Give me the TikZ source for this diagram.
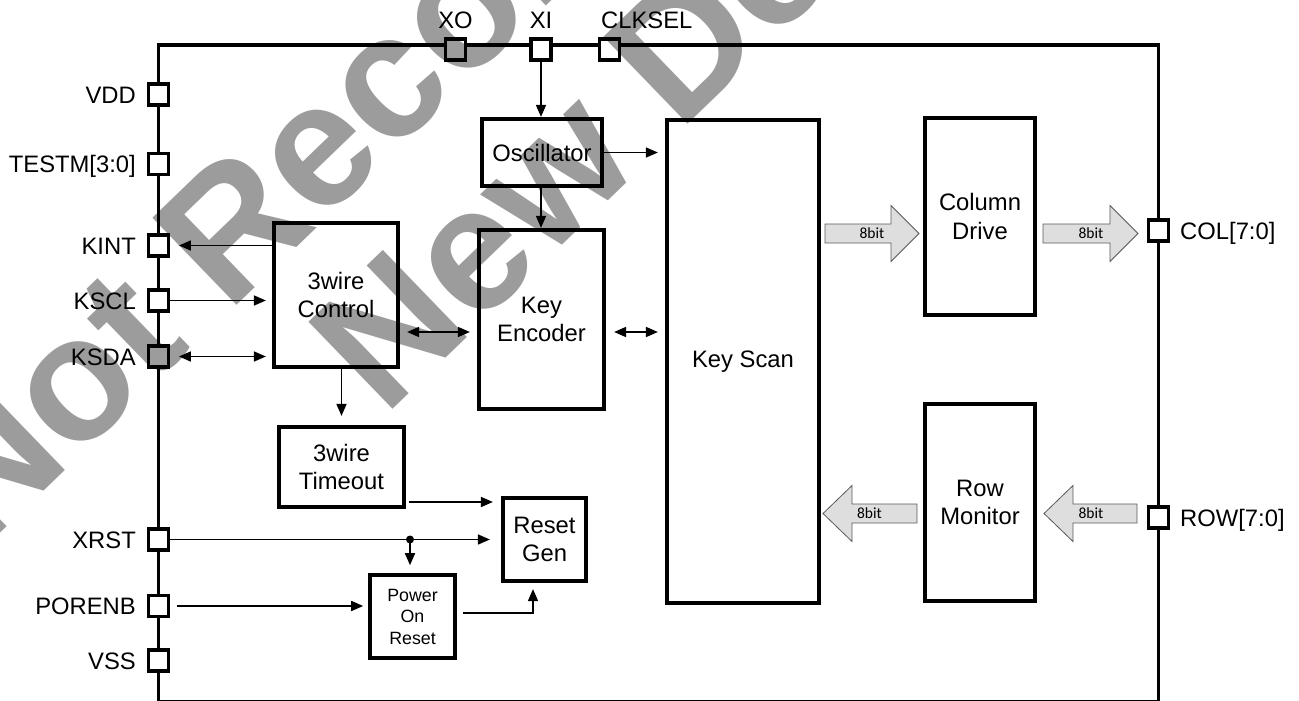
\documentclass[tikz,border=0pt]{standalone}
\usepackage{fontspec}
\setmainfont{Liberation Sans}
\newfontfamily\busfont{Carlito}
\usetikzlibrary{arrows.meta,calc}
\tikzset{
 pad/.style={draw, fill=white, line width=3.8pt, minimum width=20pt, minimum height=21pt, inner sep=0pt},
 block/.style={draw, line width=4.2pt, inner sep=0pt, align=center, font=\fontsize{23.8}{28.5}\selectfont},
 lbl/.style={inner sep=0pt, font=\fontsize{23.8}{28.5}\selectfont},
 wire/.style={line width=1.6pt, -{Triangle[length=12pt,width=10pt]}},
 wiretwo/.style={line width=1.6pt, {Triangle[length=12pt,width=10pt]}-{Triangle[length=12pt,width=10pt]}},
 bus/.style={draw=black!65, fill=black!13, line width=0.8pt},
 buslbl/.style={inner sep=0pt, font=\busfont\fontsize{15.5}{16}\selectfont},
 wm/.style={inner sep=0pt, text=black, opacity=0.39, font=\bfseries\fontsize{176}{180}\selectfont, anchor=base west, rotate=44},
}
\begin{document}
\begin{tikzpicture}[x=1pt,y=-1pt]
\useasboundingbox (0,0) rectangle (1299,701);
\clip (0,0) rectangle (1299,701);
% outer frame
\draw[line width=3.8pt] (158.5,45) rectangle (1158.5,701.5);
% blocks
\node[block, minimum width=120pt, minimum height=67pt] (osc) at (542,152.5) {Oscillator};
\node[block, minimum width=125pt, minimum height=179pt] (ke) at (541.5,319.5) {Key\\Encoder};
\node[block, minimum width=152pt, minimum height=483pt] (ks) at (743,361.5) {Key Scan};
\node[block, minimum width=124pt, minimum height=144pt] (tc) at (336,295) {3wire\\Control};
\node[block, minimum width=125pt, minimum height=80pt] (tt) at (341.5,467) {3wire\\Timeout};
\node[block, minimum width=83pt, minimum height=83pt] (rg) at (544.5,539.5) {Reset\\Gen};
\node[block, line width=3.6pt, minimum width=85pt, minimum height=83pt, font=\fontsize{17.8}{21.5}\selectfont] (por) at (412.5,616.5) {Power\\On\\Reset};
\node[block, minimum width=110pt, minimum height=197pt] (cd) at (980,216.5) {Column\\Drive};
\node[block, minimum width=110pt, minimum height=197pt] (rm) at (980,502.5) {Row\\Monitor};
% pads
\node[pad] (VDD) at (158.5,94.5) {};
\node[pad] (TESTM) at (158.5,164) {};
\node[pad] (KINT) at (158.5,245.5) {};
\node[pad] (KSCL) at (158.5,300.5) {};
\node[pad] (KSDA) at (158.5,356.5) {};
\node[pad] (XRST) at (158.5,539.5) {};
\node[pad] (PORENB) at (158.5,606) {};
\node[pad] (VSS) at (158.5,660.5) {};
\node[pad] (XO) at (455.5,49.5) {};
\node[pad] (XI) at (541,49.5) {};
\node[pad] (CLKSEL) at (609.5,49.5) {};
\node[pad] (COL) at (1158.5,230.5) {};
\node[pad] (ROW) at (1158.5,517.5) {};
% pad labels
\node[lbl, anchor=base east] (tVDD) at (136,103) {VDD};
\node[lbl, anchor=base east] (tTESTM) at (136,172.5) {TESTM[3:0]};
\node[lbl, anchor=base east] (tKINT) at (136,254) {KINT};
\node[lbl, anchor=base east] (tKSCL) at (136,309) {KSCL};
\node[lbl, anchor=base east] (tKSDA) at (136,365) {KSDA};
\node[lbl, anchor=base east] (tXRST) at (136,548) {XRST};
\node[lbl, anchor=base east] (tPORENB) at (136,614.5) {PORENB};
\node[lbl, anchor=base east] (tVSS) at (136,669) {VSS};
\node[lbl, anchor=base] (tXO) at (455.5,28.5) {XO};
\node[lbl, anchor=base] (tXI) at (541,28.5) {XI};
\node[lbl, anchor=base west] (tCLKSEL) at (601,28.5) {CLKSEL};
\node[lbl, anchor=base west] (tCOL) at (1180,239) {COL[7:0]};
\node[lbl, anchor=base west] (tROW) at (1180,526) {ROW[7:0]};
% helper coordinates
\coordinate (y332) at (0,332);
\coordinate (y502) at (0,502);
\coordinate (j) at (410,539.5);
% connectors
\draw[wire] (XI.south) -- (XI.south |- osc.north);
\draw[wire, shorten >=7pt] (osc.east) -- (osc.east -| ks.west);
\draw[wire] (osc.south -| XI) -- (ke.north -| XI);
\draw[wire, shorten >=8.5pt] (tc.west |- KINT) -- (KINT.east);
\draw[wire, shorten >=6pt] (KSCL.east) -- (KSCL -| tc.west);
\draw[wiretwo, shorten <=8.5pt, shorten >=6pt] (KSDA.east) -- (KSDA -| tc.west);
\draw[wiretwo, shorten <=7pt, shorten >=7pt] (tc.east |- y332) -- (ke.west |- y332);
\draw[wiretwo, shorten <=8pt, shorten >=7pt] (ke.east |- y332) -- (ks.west |- y332);
\draw[wire, shorten >=9pt] (tc.south -| tt.north) -- (tt.north);
\draw[wire, shorten <=3pt, shorten >=8pt] (tt.east |- y502) -- (rg.west |- y502);
\draw[wire, shorten >=11pt] (XRST.east) -- (XRST -| rg.west);
\fill (j) circle (4pt);
\draw[wire, shorten >=8pt] (j) -- (j |- por.north);
\draw[wire, shorten <=6.5pt, shorten >=5pt] (PORENB.east) -- (PORENB -| por.west);
\draw[wire, shorten >=6pt] ([xshift=6pt,yshift=3.5pt]por.east) -| ([xshift=-11.5pt]rg.south);
% bus arrows
\draw[bus] (825,224) -- (891,224) -- (891,205.5) -- (919,233.5) -- (891,261.5) -- (891,243) -- (825,243) -- cycle;
\node[buslbl] (b1) at (872,233.5) {8bit};
\draw[bus] (1043,224) -- (1110,224) -- (1110,205.5) -- (1138,233.5) -- (1110,261.5) -- (1110,243) -- (1043,243) -- cycle;
\node[buslbl] (b2) at (1091,233.5) {8bit};
\draw[bus] (1137,504) -- (1073,504) -- (1073,485.5) -- (1044,513.5) -- (1073,541.5) -- (1073,523) -- (1137,523) -- cycle;
\node[buslbl] (b3) at (1091,513.5) {8bit};
\draw[bus] (917,504) -- (852,504) -- (852,485.5) -- (823,513.5) -- (852,541.5) -- (852,523) -- (917,523) -- cycle;
\node[buslbl] (b4) at (869.5,513.5) {8bit};
% watermark
\node[wm] (wm1) at (-18,551) {Not Recommended for};
\node[wm] (wm2) at (384,418) {New Design};
\end{tikzpicture}
\end{document}
